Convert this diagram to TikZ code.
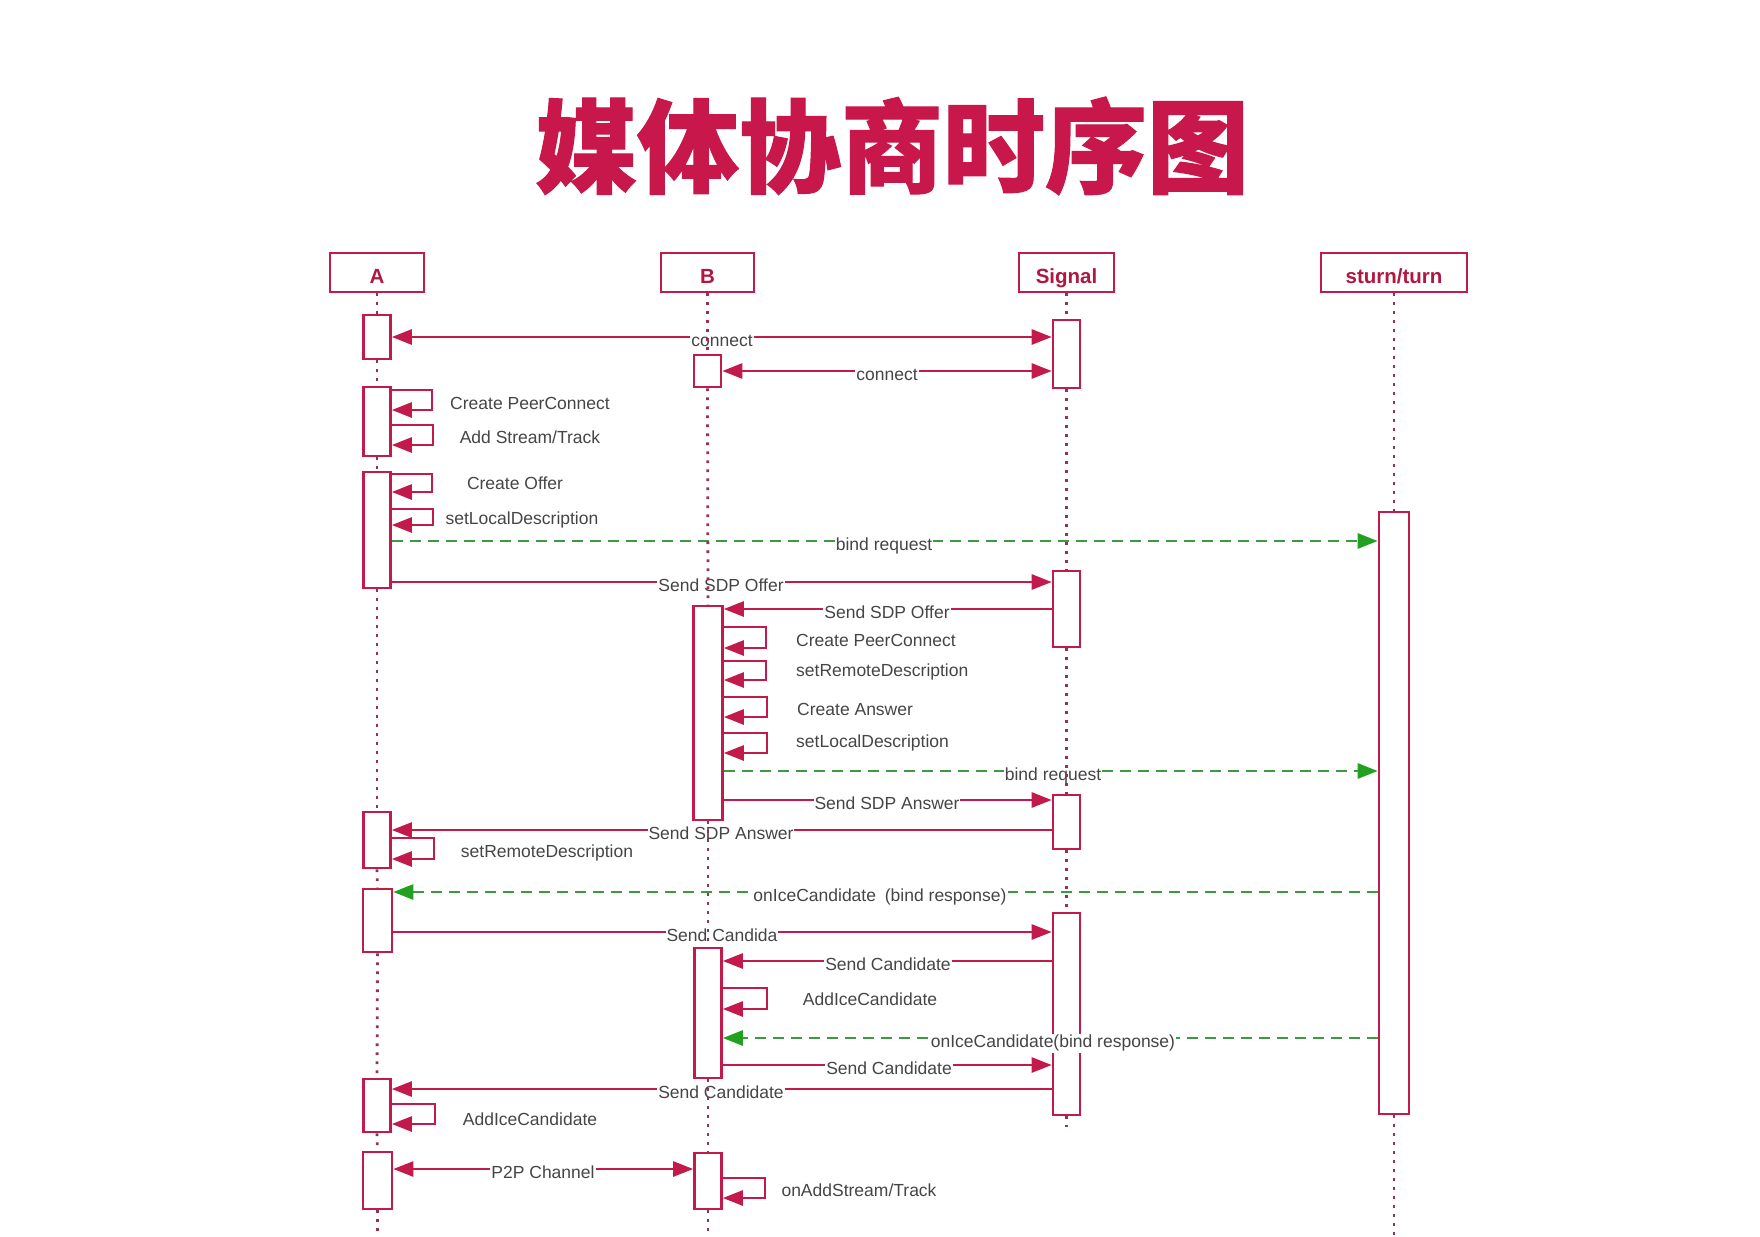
\documentclass[tikz,border=0pt]{standalone}
\usepackage{fontspec}
\setmainfont{Liberation Sans}
\newfontfamily\cjk[BoldFeatures={FakeBold=1}]{Noto Sans CJK SC}
\usetikzlibrary{arrows.meta,fit}
\pgfdeclarelayer{background}
\pgfdeclarelayer{front}
\pgfdeclarelayer{top}
\pgfsetlayers{background,main,front,top}

\definecolor{crim}{HTML}{C21A4A}
\definecolor{headtxt}{HTML}{B01842}
\definecolor{titlered}{HTML}{C8184B}
\definecolor{lifec}{HTML}{963058}
\definecolor{txt}{HTML}{454545}
\definecolor{gline}{HTML}{3E9A3E}
\definecolor{ghead}{HTML}{22A01F}

\begin{document}
\begin{tikzpicture}[x=1pt,y=-1pt,
  titlestyle/.style={text=titlered,inner sep=0,font=\cjk\bfseries\fontsize{102}{110}\selectfont},
  head/.style={draw=crim,line width=2.6pt,fill=white,minimum height=39pt,inner sep=0,
    text height=21pt,text depth=0pt,text=headtxt,font=\fontsize{20.5}{24}\selectfont\bfseries},
  act/.style={draw=crim,fill=white,line width=2.6pt,inner sep=0},
  lifeline/.style={draw=lifec,line width=2.8pt,dash pattern=on 2.8pt off 6.2pt},
  msg/.style={draw=crim,line width=2.6pt,-{Triangle[length=20pt,width=15pt]}},
  bimsg/.style={draw=crim,line width=2.6pt,{Triangle[length=20pt,width=15pt]}-{Triangle[length=20pt,width=15pt]}},
  selfmsg/.style={draw=crim,line width=2.6pt,-{Triangle[length=20pt,width=15pt]}},
  gmsg/.style={draw=gline,line width=2.6pt,dash pattern=on 11pt off 7pt,
    -{Triangle[length=20pt,width=15pt,color=ghead]}},
  lbl/.style={fill=white,text=txt,anchor=base,inner xsep=1pt,inner ysep=1pt,
    text height=13pt,text depth=4pt,font=\fontsize{17.5}{20}\selectfont},
  note/.style={text=txt,inner sep=0,font=\fontsize{17.5}{20}\selectfont},
  notew/.style={note,anchor=west}]

\useasboundingbox (0,0) rectangle (1760,1236);

% heading
\node[titlestyle] (title) at (892,146) {媒体协商时序图};

% participants
\node[head,minimum width=94pt]  (A) at (377,272.5)    {A};
\node[head,minimum width=93pt]  (B) at (707.5,272.5)  {B};
\node[head,minimum width=95pt]  (S) at (1066.5,272.5) {Signal};
\node[head,minimum width=146pt] (T) at (1394,272.5)   {sturn/turn};

% activation bars
\node[act,fit={(363.5,315)(390.5,359)}]   (A1) {};
\node[act,fit={(363.5,387)(390.5,456)}]   (A2) {};
\node[act,fit={(363.5,472)(390.5,588)}]   (A3) {};
\node[act,fit={(363.5,812)(390.5,868)}]   (A4) {};
\node[act,fit={(363,889)(392,952)}]       (A5) {};
\node[act,fit={(363.5,1079)(390.5,1132)}] (A6) {};
\node[act,fit={(363,1152)(392,1209)}]     (A7) {};
\node[act,fit={(694,355)(721,387)}]       (B1) {};
\node[act,fit={(693.5,606)(722.5,820)}]   (B2) {};
\node[act,fit={(694.5,948)(721.5,1078)}]  (B3) {};
\node[act,fit={(694.5,1153)(721.5,1209)}] (B4) {};
\node[act,fit={(1053,320)(1080,388)}]     (S1) {};
\node[act,fit={(1053,571)(1080,647)}]     (S2) {};
\node[act,fit={(1053,795)(1080,849)}]     (S3) {};
\node[act,fit={(1053,913)(1080,1115)}]    (S4) {};
\node[act,fit={(1379,512)(1409,1114)}]    (T1) {};

% lifelines, drawn between the bars
\begin{pgfonlayer}{top}
\draw[lifeline] (A.south) -- (A1.north);
\draw[lifeline] (A1.south) -- (A2.north);
\draw[lifeline] (A2.south) -- (A3.north);
\draw[lifeline] (A3.south) -- (A4.north);
\draw[lifeline] (A4.south) -- (A5.north);
\draw[lifeline] (A5.south) -- (A6.north);
\draw[lifeline] (A6.south) -- (A7.north);
\draw[lifeline] (A7.south) -- (A7.south |- 0,1236);
\draw[lifeline] (B1.north |- B.south) -- (B1.north);
\draw[lifeline] (B1.south) -- (B2.north);
\draw[lifeline] (B2.south) -- (B3.north);
\draw[lifeline] (B3.south) -- (B4.north);
\draw[lifeline] (B4.south) -- (B4.south |- 0,1236);
\draw[lifeline] (S.south) -- (S1.north);
\draw[lifeline] (S1.south) -- (S2.north);
\draw[lifeline] (S2.south) -- (S3.north);
\draw[lifeline] (S3.south) -- (S4.north);
\draw[lifeline] (S4.south) -- (S4.south |- 0,1127);
\draw[lifeline] (T.south) -- (T1.north);
\draw[lifeline] (T1.south) -- (T1.south |- 0,1236);
\end{pgfonlayer}

% message lines
\begin{pgfonlayer}{background}
\draw[bimsg] (A1.east |- 0,337) -- (S1.west |- 0,337);
\draw[bimsg] (B1.east |- 0,371) -- (S1.west |- 0,371);
\draw[selfmsg] (A2.east |- 0,390) -- ++(40,0) |- (A2.east |- 0,410);
\draw[selfmsg] (A2.east |- 0,425) -- ++(41,0) |- (A2.east |- 0,445);
\draw[selfmsg] (A3.east |- 0,474) -- ++(40,0) |- (A3.east |- 0,492);
\draw[selfmsg] (A3.east |- 0,509) -- ++(41,0) |- (A3.east |- 0,525);
\draw[gmsg] (A3.east |- 0,541) -- (T1.west |- 0,541);
\draw[msg] (A3.east |- 0,582) -- (S2.west |- 0,582);
\draw[msg] (S2.west |- 0,609) -- (B2.east |- 0,609);
\draw[selfmsg] (B2.east |- 0,627) -- ++(42,0) |- (B2.east |- 0,648);
\draw[selfmsg] (B2.east |- 0,661) -- ++(42,0) |- (B2.east |- 0,680);
\draw[selfmsg] (B2.east |- 0,697) -- ++(43,0) |- (B2.east |- 0,717);
\draw[selfmsg] (B2.east |- 0,733) -- ++(43,0) |- (B2.east |- 0,753);
\draw[gmsg] (B2.east |- 0,771) -- (T1.west |- 0,771);
\draw[msg] (B2.east |- 0,800) -- (S3.west |- 0,800);
\draw[msg] (S3.west |- 0,830) -- (A4.east |- 0,830);
\draw[selfmsg] (A4.east |- 0,838) -- ++(42,0) |- (A4.east |- 0,859);
\draw[gmsg] (T1.west |- 0,892) -- (A5.east |- 0,892);
\draw[msg] (A5.east |- 0,932) -- (S4.west |- 0,932);
\draw[msg] (S4.west |- 0,961) -- (B3.east |- 0,961);
\draw[selfmsg] (B3.east |- 0,988) -- ++(44,0) |- (B3.east |- 0,1009);
\draw[gmsg] (T1.west |- 0,1038) -- (B3.east |- 0,1038);
\draw[msg] (B3.east |- 0,1065) -- (S4.west |- 0,1065);
\draw[msg] (S4.west |- 0,1089) -- (A6.east |- 0,1089);
\draw[selfmsg] (A6.east |- 0,1104) -- ++(43,0) |- (A6.east |- 0,1124);
\draw[bimsg] (A7.east |- 0,1169) -- (B4.west |- 0,1169);
\draw[selfmsg] (B4.east |- 0,1178) -- ++(42,0) |- (B4.east |- 0,1198);
\end{pgfonlayer}

% message labels
\begin{pgfonlayer}{front}
\node[lbl] (m1) at (722,346.5) {connect};
\node[lbl] (m2) at (887,380.5) {connect};
\node[note] (n1) at (530,403) {Create PeerConnect};
\node[note] (n2) at (530,437) {Add Stream/Track};
\node[note] (n3) at (515,483) {Create Offer};
\node[note] (n4) at (522,520) {setLocalDescription};
\node[lbl] (m3) at (884,550.5) {bind request};
\node[lbl] (m4) at (721,591.5) {Send SDP Offer};
\node[lbl] (m5) at (887,618.5) {Send SDP Offer};
\node[notew] (n5) at (796,640) {Create PeerConnect};
\node[notew] (n6) at (796,672) {setRemoteDescription};
\node[notew] (n7) at (797,709) {Create Answer};
\node[notew] (n8) at (796,743) {setLocalDescription};
\node[lbl] (m6) at (1053,780.5) {bind request};
\node[lbl] (m7) at (887,809.5) {Send SDP Answer};
\node[lbl] (m8) at (721,839.5) {Send SDP Answer};
\node[note] (n9) at (547,853) {setRemoteDescription};
\node[lbl] (m9) at (880,901.5) {onIceCandidate\hspace{4pt} (bind response)};
\node[lbl] (m10) at (722,941.5) {Send Candida};
\node[lbl] (m11) at (888,970.5) {Send Candidate};
\node[note] (n10) at (870,999) {AddIceCandidate};
\node[lbl] (m12) at (1053,1047.5) {onIceCandidate(bind response)};
\node[lbl] (m13) at (889,1074.5) {Send Candidate};
\node[lbl] (m14) at (721,1098.5) {Send Candidate};
\node[note] (n11) at (530,1119) {AddIceCandidate};
\node[lbl] (m15) at (543,1178.5) {P2P Channel};
\node[note] (n12) at (859,1190) {onAddStream/Track};
\end{pgfonlayer}
\end{tikzpicture}
\end{document}
